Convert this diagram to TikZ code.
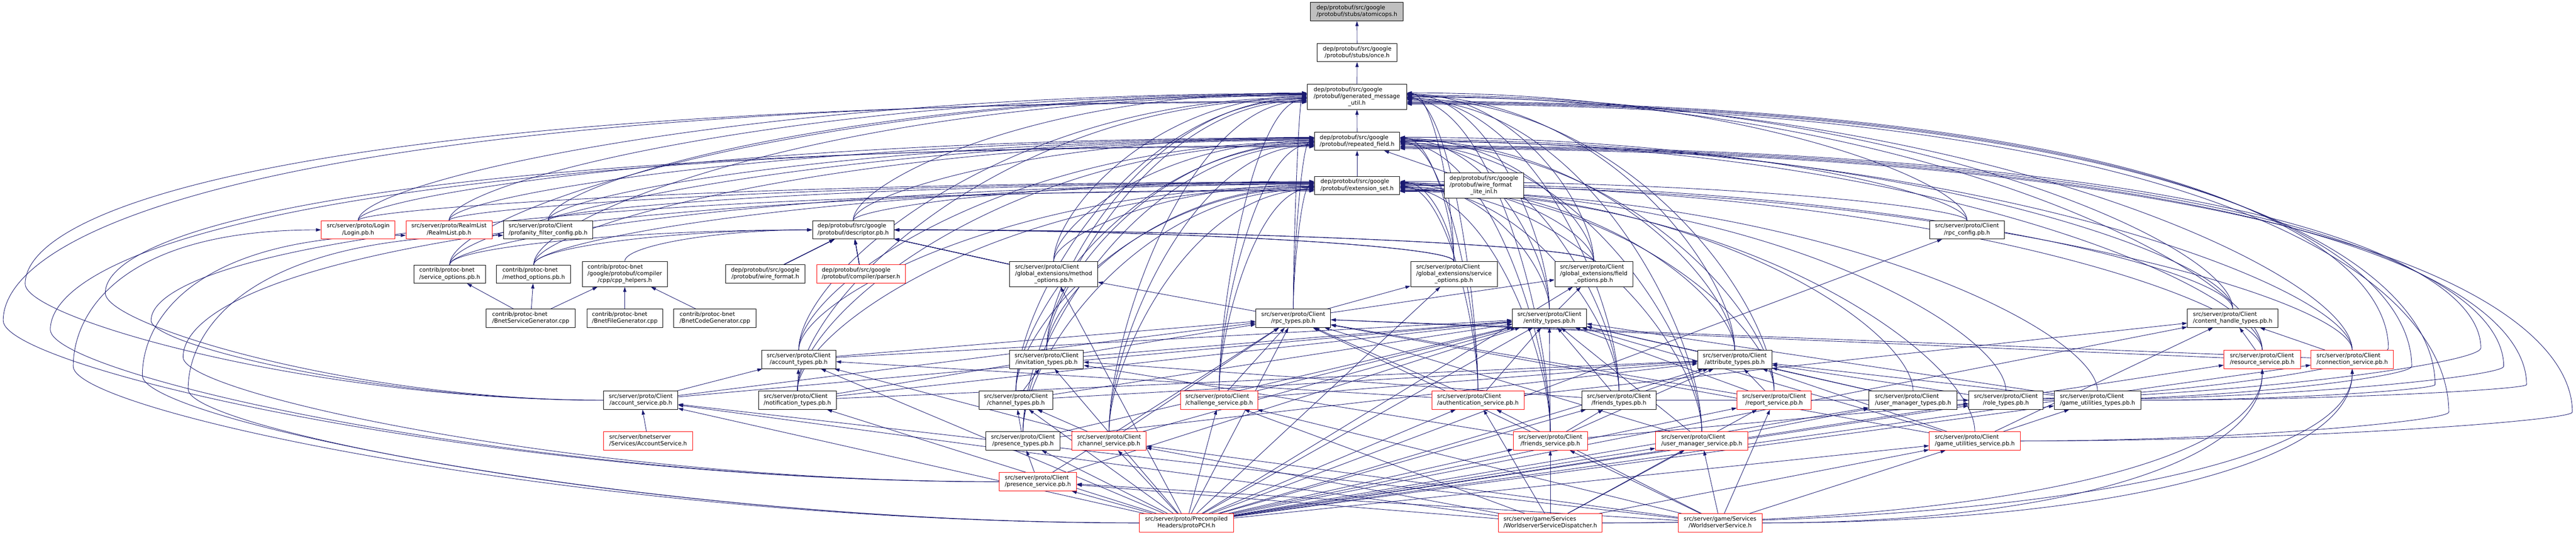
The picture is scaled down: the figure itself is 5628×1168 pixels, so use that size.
\documentclass[tikz,border=0pt]{standalone}
\usepackage{fontspec}
\setmainfont{DejaVu Sans}
\usetikzlibrary{arrows.meta,backgrounds,calc}
\definecolor{edgeblue}{RGB}{25,25,112}
\definecolor{rootgray}{RGB}{191,191,191}
\newcommand{\twol}[2]{\begin{tabular}{@{}l@{}}#1\\\multicolumn{1}{@{}c@{}}{#2}\end{tabular}}
\newcommand{\threel}[3]{\begin{tabular}{@{}l@{}}#1\\#2\\\multicolumn{1}{@{}c@{}}{#3}\end{tabular}}
\newcommand{\client}[1]{\twol{src/server/proto/Client}{#1}}
% up first, then sideways into the target
\newcommand{\vh}[4]{\draw[dep] (#1) .. controls ($(#1)!#3!(#1 |- #2)$) and ($(#2)!#4!(#2 -| #1)$) .. (#2);}
% sideways first, then up into the target
\newcommand{\hv}[4]{\draw[dep] (#1) .. controls ($(#1)!#3!(#1 -| #2)$) and ($(#2)!#4!(#2 |- #1)$) .. (#2);}
% out to a margin point, then up and into the target
\newcommand{\via}[3]{\draw[dep] (#1) .. controls ($(#1)!0.5!(#1 -| #2)$) and ($(#2)!0.3!(#2 |- #1)$) .. (#2)
  .. controls ($(#2)!0.4!(#2 |- #3)$) and ($(#3)!0.8!(#3 -| #2)$) .. (#3);}
\tikzset{
  file/.style={draw=black, fill=white, line width=1pt, inner sep=3pt,
               minimum height=40pt, font={\fontsize{12.5}{15}\selectfont}},
  nodoc/.style={file, draw=red},
  root/.style={file, fill=rootgray},
  tall/.style={minimum height=55pt},
  dep/.style={draw=edgeblue, line width=1pt, -{Triangle[length=11pt,width=7pt]}},
}
\begin{document}
\begin{tikzpicture}[x=1pt,y=-1pt]
\useasboundingbox (0,0) rectangle (5628,1168);
% protobuf headers
\node[root, minimum width=203pt] (atomicops) at (2964.5,25.5) {\twol{dep/protobuf/src/google}{/protobuf/stubs/atomicops.h}};
\node[file, minimum width=174pt] (once) at (2965,115) {\twol{dep/protobuf/src/google}{/protobuf/stubs/once.h}};
\node[file, tall, minimum width=217pt] (gmu) at (2964.5,211.5) {\threel{dep/protobuf/src/google}{/protobuf/generated\_message}{\_util.h}};
\node[file, minimum width=186pt] (rf) at (2965,308.5) {\twol{dep/protobuf/src/google}{/protobuf/repeated\_field.h}};
\node[file, minimum width=186pt] (es) at (2965,405) {\twol{dep/protobuf/src/google}{/protobuf/extension\_set.h}};
\node[file, tall, minimum width=174pt] (wfli) at (3242,405) {\threel{dep/protobuf/src/google}{/protobuf/wire\_format}{\_lite\_inl.h}};
\node[file, minimum width=178pt] (descriptor) at (1864,502) {\twol{dep/protobuf/src/google}{/protobuf/descriptor.pb.h}};
\node[file, minimum width=174pt] (wireformat) at (1672,598) {\twol{dep/protobuf/src/google}{/protobuf/wire\_format.h}};
\node[nodoc, minimum width=194pt] (parser) at (1881,598) {\twol{dep/protobuf/src/google}{/protobuf/compiler/parser.h}};
% row of Login
\node[nodoc, minimum width=161pt] (login) at (782.5,502) {\twol{src/server/proto/Login}{/Login.pb.h}};
\node[nodoc, minimum width=188pt] (realmlist) at (981,502) {\twol{src/server/proto/RealmList}{/RealmList.pb.h}};
\node[file, minimum width=195pt] (profanity) at (1197.5,502) {\client{/profanity\_filter\_config.pb.h}};
\node[file, minimum width=163pt] (rpcconfig) at (4297.5,502) {\client{/rpc\_config.pb.h}};
% protoc-bnet
\node[file, minimum width=157pt] (svcopt) at (982.5,598.5) {\twol{contrib/protoc-bnet}{/service\_options.pb.h}};
\node[file, minimum width=162pt] (mthopt) at (1166,598.5) {\twol{contrib/protoc-bnet}{/method\_options.pb.h}};
\node[file, tall, minimum width=186pt] (cpphelpers) at (1365,598.5) {\threel{contrib/protoc-bnet}{/google/protobuf/compiler}{/cpp/cpp\_helpers.h}};
\node[file, minimum width=195pt] (svcgen) at (1159.5,695) {\twol{contrib/protoc-bnet}{/BnetServiceGenerator.cpp}};
\node[file, minimum width=166pt] (filegen) at (1365,695) {\twol{contrib/protoc-bnet}{/BnetFileGenerator.cpp}};
\node[file, minimum width=180pt] (codegen) at (1562,695) {\twol{contrib/protoc-bnet}{/BnetCodeGenerator.cpp}};
% global extensions
\node[file, tall, minimum width=192pt] (gmethod) at (2302,598.5) {\threel{src/server/proto/Client}{/global\_extensions/method}{\_options.pb.h}};
\node[file, tall, minimum width=189pt] (gservice) at (3176.5,598.5) {\threel{src/server/proto/Client}{/global\_extensions/service}{\_options.pb.h}};
\node[file, tall, minimum width=170pt] (gfield) at (3482,598.5) {\threel{src/server/proto/Client}{/global\_extensions/field}{\_options.pb.h}};
% client types
\node[file, minimum width=163pt] (rpctypes) at (2825.5,695) {\client{/rpc\_types.pb.h}};
\node[file, minimum width=162pt] (entity) at (3385,695) {\client{/entity\_types.pb.h}};
\node[file, minimum width=198pt] (contenthandle) at (4878,695) {\client{/content\_handle\_types.pb.h}};
\node[file, minimum width=162pt] (accounttypes) at (1745,785) {\client{/account\_types.pb.h}};
\node[file, minimum width=161pt] (invitation) at (2286.5,785) {\client{/invitation\_types.pb.h}};
\node[file, minimum width=162pt] (attribute) at (3790,785) {\client{/attribute\_types.pb.h}};
\node[nodoc, minimum width=167pt] (resourcesvc) at (4942.5,785) {\client{/resource\_service.pb.h}};
\node[nodoc, minimum width=180pt] (connectionsvc) at (5139,785) {\client{/connection\_service.pb.h}};
\node[file, minimum width=162pt] (accountsvc) at (1400,874) {\client{/account\_service.pb.h}};
\node[file, minimum width=170pt] (notification) at (1742,874) {\client{/notification\_types.pb.h}};
\node[file, minimum width=161pt] (channeltypes) at (2219.5,874) {\client{/channel\_types.pb.h}};
\node[nodoc, minimum width=169pt] (challenge) at (2663.5,874) {\client{/challenge\_service.pb.h}};
\node[nodoc, minimum width=202pt] (authsvc) at (3229,874) {\client{/authentication\_service.pb.h}};
\node[file, minimum width=162pt] (friendstypes) at (3537,874) {\client{/friends\_types.pb.h}};
\node[nodoc, minimum width=162pt] (report) at (3876,874) {\client{/report\_service.pb.h}};
\node[file, minimum width=193pt] (umtypes) at (4179.5,874) {\client{/user\_manager\_types.pb.h}};
\node[file, minimum width=163pt] (roletypes) at (4382.5,874) {\client{/role\_types.pb.h}};
\node[file, minimum width=189pt] (gutypes) at (4582.5,874) {\client{/game\_utilities\_types.pb.h}};
\node[nodoc, minimum width=194pt] (accountsvch) at (1416,963) {\twol{src/server/bnetserver}{/Services/AccountService.h}};
\node[file, minimum width=162pt] (presencetypes) at (2235,963) {\client{/presence\_types.pb.h}};
\node[nodoc, minimum width=162pt] (channelsvc) at (2423,963) {\client{/channel\_service.pb.h}};
\node[nodoc, minimum width=162pt] (friendssvc) at (3387,963) {\client{/friends\_service.pb.h}};
\node[nodoc, minimum width=202pt] (umsvc) at (3718,963) {\client{/user\_manager\_service.pb.h}};
\node[nodoc, minimum width=199pt] (gusvc) at (4314.5,963) {\client{/game\_utilities\_service.pb.h}};
\node[nodoc, minimum width=169pt] (presencesvc) at (2267.5,1052) {\client{/presence\_service.pb.h}};
% includers at the bottom
\node[nodoc, minimum width=206pt] (pch) at (2592,1142) {\twol{src/server/proto/Precompiled}{Headers/protoPCH.h}};
\node[nodoc, minimum width=226pt] (wsdisp) at (3387,1142) {\twol{src/server/game/Services}{/WorldserverServiceDispatcher.h}};
\node[nodoc, minimum width=184pt] (wssvc) at (3758,1142) {\twol{src/server/game/Services}{/WorldserverService.h}};

\begin{scope}[on background layer]
% chain to atomicops
\draw[dep] (once) -- (atomicops);
\draw[dep] (gmu) -- (once);
\draw[dep] (rf) -- (gmu);
\draw[dep] (es) -- (rf);
\draw[dep] (wfli) -- (rf);
% every .pb.h includes the three protobuf headers
\foreach \n [count=\i] in {descriptor,login,realmlist,profanity,svcopt,mthopt,gmethod,rpctypes,accounttypes,invitation,notification,channeltypes,challenge,presencetypes,channelsvc}{
  \coordinate (ta) at ([yshift={(10-\i*1.3)*1pt}]gmu.west);
  \coordinate (tb) at ([yshift={(10-\i*1.3)*1pt}]rf.west);
  \coordinate (tc) at ([yshift={(10-\i*1.3)*1pt}]es.west);
  \vh{\n.north}{ta}{0.3}{0.6}
  \vh{\n.north}{tb}{0.3}{0.6}
  \vh{\n.north}{tc}{0.3}{0.6}
}
\foreach \n [count=\i] in {rpcconfig,gservice,gfield,entity,contenthandle,attribute,resourcesvc,connectionsvc,authsvc,friendstypes,report,friendssvc,umsvc}{
  \coordinate (ta) at ([yshift={(10-\i*1.3)*1pt}]gmu.east);
  \coordinate (tb) at ([yshift={(10-\i*1.3)*1pt}]rf.east);
  \coordinate (tc) at ([yshift={(10-\i*1.3)*1pt}]es.east);
  \vh{\n.north}{ta}{0.3}{0.6}
  \vh{\n.north}{tb}{0.3}{0.6}
  \vh{\n.north}{tc}{0.3}{0.6}
}
\foreach \n [count=\i] in {umtypes,roletypes,gutypes,gusvc}{
  \coordinate (tc) at ([yshift={(-8-\i*1.3)*1pt}]es.east);
  \vh{\n.north}{tc}{0.3}{0.6}
}
% round the left and right margins
\foreach \n/\x/\y/\t/\s in {presencesvc/7/700/gmu/-10, accountsvc/55/620/gmu/-12,
    presencesvc/110/720/rf/-10, accountsvc/230/640/rf/-12,
    presencesvc/400/780/es/-10, accountsvc/330/700/es/-12}{
  \coordinate (w) at (\x,\y);
  \coordinate (t) at ([yshift=\s pt]\t.west);
  \via{\n.west}{w}{t}
}
\foreach \n/\x/\y/\t/\s in {umtypes/5218/760/gmu/-10, roletypes/5269/800/gmu/-12,
    gutypes/5320/840/gmu/-14, gusvc/5350/900/gmu/-16,
    umtypes/5420/760/rf/-10, roletypes/5470/800/rf/-12,
    gutypes/5520/840/rf/-14, gusvc/5620/900/rf/-16}{
  \coordinate (w) at (\x,\y);
  \coordinate (t) at ([yshift=\s pt]\t.east);
  \via{\n.east}{w}{t}
}
% descriptor.pb.h
\foreach \n in {svcopt,mthopt,cpphelpers}
  \vh{\n.north}{descriptor.west}{0.5}{0.5}
\foreach \n in {gservice,gfield}
  \vh{\n.north}{descriptor.east}{0.5}{0.5}
\foreach \n in {wireformat,parser,gmethod}
  \draw[dep] (\n) -- (descriptor);
\draw[dep] (svcgen) -- (svcopt);
\draw[dep] (svcgen) -- (mthopt);
\draw[dep] (svcgen) -- (cpphelpers);
\draw[dep] (filegen) -- (cpphelpers);
\draw[dep] (codegen) -- (cpphelpers);
% client imports
\foreach \a/\b in {rpctypes/gmethod, rpctypes/gservice, rpctypes/gfield, entity/gfield,
    accounttypes/entity, accounttypes/rpctypes, invitation/entity, attribute/entity,
    roletypes/attribute, friendstypes/attribute, friendstypes/entity, friendstypes/invitation,
    friendstypes/roletypes, umtypes/entity, umtypes/roletypes, umtypes/attribute,
    gutypes/attribute, gutypes/entity, presencetypes/attribute, presencetypes/entity,
    presencetypes/channeltypes, channeltypes/attribute, channeltypes/entity, channeltypes/invitation,
    notification/attribute, notification/entity, notification/accounttypes, notification/rpctypes,
    accountsvc/accounttypes, accountsvc/entity, accountsvc/rpctypes,
    authsvc/contenthandle, authsvc/entity, authsvc/accounttypes, authsvc/rpctypes,
    challenge/attribute, challenge/entity, challenge/rpctypes,
    channelsvc/accounttypes, channelsvc/entity, channelsvc/channeltypes, channelsvc/rpctypes,
    connectionsvc/contenthandle, connectionsvc/rpctypes, resourcesvc/contenthandle, resourcesvc/rpctypes,
    friendssvc/attribute, friendssvc/entity, friendssvc/friendstypes, friendssvc/invitation,
    friendssvc/roletypes, friendssvc/rpctypes,
    gusvc/attribute, gusvc/entity, gusvc/contenthandle, gusvc/gutypes, gusvc/rpctypes,
    presencesvc/entity, presencesvc/presencetypes, presencesvc/rpctypes,
    report/attribute, report/entity, report/rpctypes,
    umsvc/umtypes, umsvc/entity, umsvc/rpctypes, accountsvch/accountsvc}
  \draw[dep] (\a) -- (\b);
% protoPCH.h
\foreach \t/\x/\y/\s in {login/160/800/0, realmlist/311/820/-12, profanity/411/850/-12}{
  \coordinate (w) at (\x,\y);
  \coordinate (t) at ([yshift=\s pt]\t.west);
  \via{pch.west}{w}{t}
}
\foreach \n in {accountsvc,accounttypes,notification,channeltypes,invitation,presencetypes,channelsvc,
    presencesvc,challenge,rpctypes,entity,attribute,authsvc,friendstypes,friendssvc,umtypes,umsvc,
    report,roletypes,gutypes,gusvc,contenthandle,resourcesvc,connectionsvc,rpcconfig,gmethod,gservice,gfield}
  \draw[dep] (pch) -- (\n);
% worldserver services
\foreach \w in {wsdisp,wssvc}{
  \foreach \n in {accountsvc,authsvc,challenge,channelsvc,friendssvc,gusvc,presencesvc,report,umsvc}
    \draw[dep] (\w) -- (\n);
  \hv{\w.east}{connectionsvc.south}{0.6}{0.6}
  \hv{\w.east}{resourcesvc.south}{0.6}{0.6}
}
\end{scope}
\end{tikzpicture}
\end{document}
